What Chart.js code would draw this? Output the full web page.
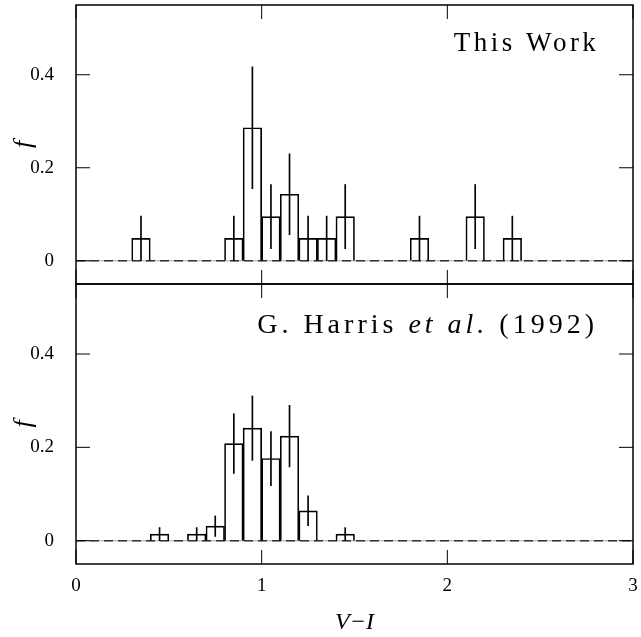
<!DOCTYPE html>
<html>
<head>
<meta charset="utf-8">
<script src="https://cdn.jsdelivr.net/npm/chart.js@4.4.0/dist/chart.umd.min.js"></script>
<style>
  html, body { margin: 0; padding: 0; background: #fff; }
  #wrap { position: relative; width: 641px; height: 637px; }
  .panel { position: absolute; left: 0; width: 641px; }
  #topPanel { top: 0; height: 290px; }
  #bottomPanel { top: 280px; height: 357px; }
</style>
</head>
<body>
<div id="wrap">
  <div class="panel" id="topPanel"><canvas id="topChart"></canvas></div>
  <div class="panel" id="bottomPanel"><canvas id="bottomChart"></canvas></div>
</div>
<script>
// bin centres in V-I (bins 0.1 wide), fraction f and its error
const binsTop = [0.35, 0.85, 0.95, 1.05, 1.15, 1.25, 1.35, 1.45, 1.85, 2.15, 2.35];
const fracTop = [0.048, 0.048, 0.286, 0.095, 0.143, 0.048, 0.048, 0.095, 0.048, 0.095, 0.048];
const errTop  = [0.048, 0.048, 0.131, 0.069, 0.087, 0.048, 0.048, 0.069, 0.048, 0.069, 0.048];

const binsBottom = [0.45, 0.65, 0.75, 0.85, 0.95, 1.05, 1.15, 1.25, 1.45];
const fracBottom = [0.014, 0.014, 0.031, 0.208, 0.241, 0.176, 0.224, 0.064, 0.014];
const errBottom  = [0.014, 0.014, 0.022, 0.064, 0.069, 0.058, 0.066, 0.032, 0.014];

// labelled (major) ticks
const xMajor = [0, 1, 2, 3];
const yMajor = [0, 0.2, 0.4];

const FONT = "'Liberation Serif', 'DejaVu Serif', serif";

function isMajor(v, list) {
  return list.some(m => Math.abs(m - v) < 1e-6);
}
function tickText(v, list) {
  if (!isMajor(v, list)) return null;
  if (Math.abs(v) < 1e-6) return '0';
  return Math.abs(v - Math.round(v)) < 1e-6 ? String(Math.round(v)) : v.toFixed(1);
}

// frame, inward ticks on all four sides and the panel caption
const framePlugin = {
  id: 'frame',
  afterDraw(chart, args, opts) {
    const { ctx, chartArea: a, scales: { x, y } } = chart;
    ctx.save();
    ctx.strokeStyle = '#000';
    ctx.lineWidth = 1;
    ctx.beginPath();
    x.ticks.forEach(t => {
      const px = x.getPixelForValue(t.value);
      const len = isMajor(t.value, xMajor) ? 14 : 8;
      ctx.moveTo(px, a.bottom); ctx.lineTo(px, a.bottom - len);
      ctx.moveTo(px, a.top); ctx.lineTo(px, a.top + len);
    });
    y.ticks.forEach(t => {
      const py = y.getPixelForValue(t.value);
      const len = isMajor(t.value, yMajor) ? 14 : 8;
      ctx.moveTo(a.left, py); ctx.lineTo(a.left + len, py);
      ctx.moveTo(a.right, py); ctx.lineTo(a.right - len, py);
    });
    ctx.stroke();
    ctx.lineWidth = 1.5;
    ctx.strokeRect(a.left, a.top, a.right - a.left, a.bottom - a.top);

    // caption, right aligned at a data position
    const parts = opts.caption || [];
    const size = opts.size;
    ctx.fillStyle = '#000';
    ctx.textBaseline = 'alphabetic';
    ctx.letterSpacing = opts.spacing + 'px';
    let total = 0;
    parts.forEach(p => {
      ctx.font = (p.italic ? 'italic ' : '') + size + 'px ' + FONT;
      p.w = ctx.measureText(p.text).width;
      total += p.w;
    });
    let cx = x.getPixelForValue(opts.at[0]) - total + opts.spacing;
    const cy = y.getPixelForValue(opts.at[1]);
    parts.forEach(p => {
      ctx.font = (p.italic ? 'italic ' : '') + size + 'px ' + FONT;
      ctx.fillText(p.text, cx, cy);
      cx += p.w;
    });
    ctx.restore();
  }
};

function makeDatasets(bins, frac, err) {
  return [
    {
      type: 'bar',
      data: bins.map((b, i) => ({ x: b, y: frac[i] })),
      backgroundColor: 'rgba(0,0,0,0)',
      borderColor: '#000',
      borderWidth: 1,
      borderSkipped: 'start',
      grouped: false,
      barPercentage: 1,
      categoryPercentage: 1
    },
    {
      type: 'bar',
      data: bins.map((b, i) => ({ x: b, y: [frac[i] - err[i], frac[i] + err[i]] })),
      backgroundColor: '#000',
      borderWidth: 0,
      grouped: false,
      barPercentage: 1,
      categoryPercentage: 1,
      maxBarThickness: 1
    },
    {
      type: 'line',
      data: [{ x: 0, y: 0 }, { x: 3, y: 0 }],
      borderColor: '#333',
      borderWidth: 1.5,
      borderDash: [9, 5],
      pointRadius: 0
    },
    {
      type: 'line',
      data: [{ x: 0, y: 0 }, { x: 3, y: 0 }],
      borderColor: '#c4c4c4',
      borderWidth: 1.5,
      pointRadius: 0
    }
  ];
}

function makeOptions(showX, caption, padding) {
  return {
    responsive: true,
    maintainAspectRatio: false,
    animation: false,
    layout: { padding: padding },
    plugins: {
      legend: { display: false },
      tooltip: { enabled: false },
      frame: caption
    },
    scales: {
      x: {
        type: 'linear',
        min: 0,
        max: 3,
        offset: false,
        grid: { display: false, drawTicks: true, tickLength: 11 },
        border: { display: false },
        ticks: {
          display: showX,
          stepSize: 0.2,
          autoSkip: false,
          maxRotation: 0,
          padding: 0,
          color: '#000',
          font: { family: FONT, size: 19 },
          callback: v => tickText(v, xMajor)
        },
        title: {
          display: showX,
          text: 'V\u2212I',
          color: '#000',
          font: { family: FONT, size: 24, style: 'italic' },
          padding: { top: 0, bottom: 0 }
        },
        afterFit: s => { s.height = showX ? 73 : 0; }
      },
      y: {
        min: -0.05,
        max: 0.55,
        grid: { display: false, drawTicks: true, tickLength: 22 },
        border: { display: false },
        ticks: {
          stepSize: 0.05,
          autoSkip: false,
          padding: 0,
          color: '#000',
          // small line height so the end labels do not pad the plot area
          font: { family: FONT, size: 19, lineHeight: 0.35 },
          callback: v => tickText(v, yMajor)
        },
        title: {
          display: true,
          text: 'f',
          color: '#000',
          font: { family: FONT, size: 26, style: 'italic' },
          padding: { top: 9, bottom: 9 }
        },
        afterFit: s => { s.width = 76; }
      }
    }
  };
}

new Chart(document.getElementById('topChart'), {
  type: 'bar',
  data: { datasets: makeDatasets(binsTop, fracTop, errTop) },
  options: makeOptions(false,
    { caption: [{ text: 'This Work' }], at: [2.8, 0.452], size: 27, spacing: 3.5 },
    { top: 5, right: 8, bottom: 6, left: 0 }),
  plugins: [framePlugin]
});

new Chart(document.getElementById('bottomChart'), {
  type: 'bar',
  data: { datasets: makeDatasets(binsBottom, fracBottom, errBottom) },
  options: makeOptions(true,
    {
      caption: [
        { text: 'G. Harris ' },
        { text: 'et al.', italic: true },
        { text: ' (1992)' }
      ],
      at: [2.79, 0.446], size: 28, spacing: 4
    },
    { top: 4, right: 8, bottom: 0, left: 0 }),
  plugins: [framePlugin]
});
</script>
</body>
</html>
